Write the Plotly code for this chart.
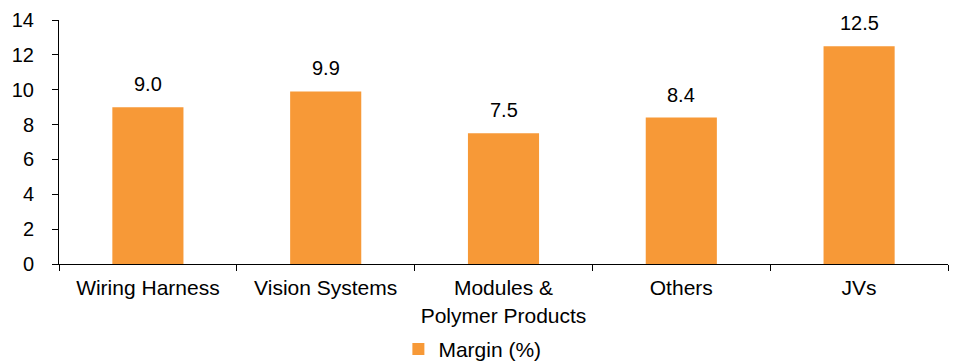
import plotly.graph_objects as go

# Segment EBITDA margins
categories = ["Wiring Harness", "Vision Systems", "Modules &<br>Polymer Products", "Others", "JVs"]
margin_pct = [9.0, 9.9, 7.5, 8.4, 12.5]
series_name = "Margin (%)"
y_ticks = [0, 2, 4, 6, 8, 10, 12, 14]

BAR_COLOR = "#F79937"
FONT = "Liberation Sans, Arial, sans-serif"

fig = go.Figure()
fig.add_trace(go.Bar(
    x=categories,
    y=margin_pct,
    name=series_name,
    marker=dict(color=BAR_COLOR, line=dict(width=0)),
    width=0.4,
    showlegend=True,
))

# value labels above each bar
for cat, val in zip(categories, margin_pct):
    fig.add_annotation(
        x=cat, y=val, text=f"{val:.1f}", showarrow=False,
        yanchor="bottom", yshift=10,
        font=dict(family=FONT, size=20, color="#000000"),
    )

fig.update_layout(
    width=957, height=362,
    margin=dict(l=59, r=9, t=20, b=98, autoexpand=False),
    paper_bgcolor="white", plot_bgcolor="white",
    font=dict(family=FONT, size=21, color="#000000"),
    bargap=0.6,
    legend=dict(
        orientation="h", x=0.465, xanchor="center",
        yref="container", y=0.035, yanchor="middle",
        font=dict(family=FONT, size=21, color="#000000"),
        itemwidth=30, traceorder="normal",
    ),
    showlegend=True,
)

fig.update_xaxes(
    showline=True, linecolor="#000000", linewidth=1,
    ticks="outside", tickson="boundaries", ticklen=6, tickcolor="#000000",
    showgrid=False, automargin=False, ticklabelstandoff=5,
    tickfont=dict(family=FONT, size=21, color="#000000"),
)
fig.update_yaxes(
    range=[0, 14], tickvals=y_ticks,
    showline=True, linecolor="#000000", linewidth=1,
    ticks="outside", ticklen=6, tickcolor="#000000",
    showgrid=False, zeroline=False, automargin=False, ticklabelstandoff=14,
    tickfont=dict(family=FONT, size=20, color="#000000"),
)

fig.write_html("out.html")
